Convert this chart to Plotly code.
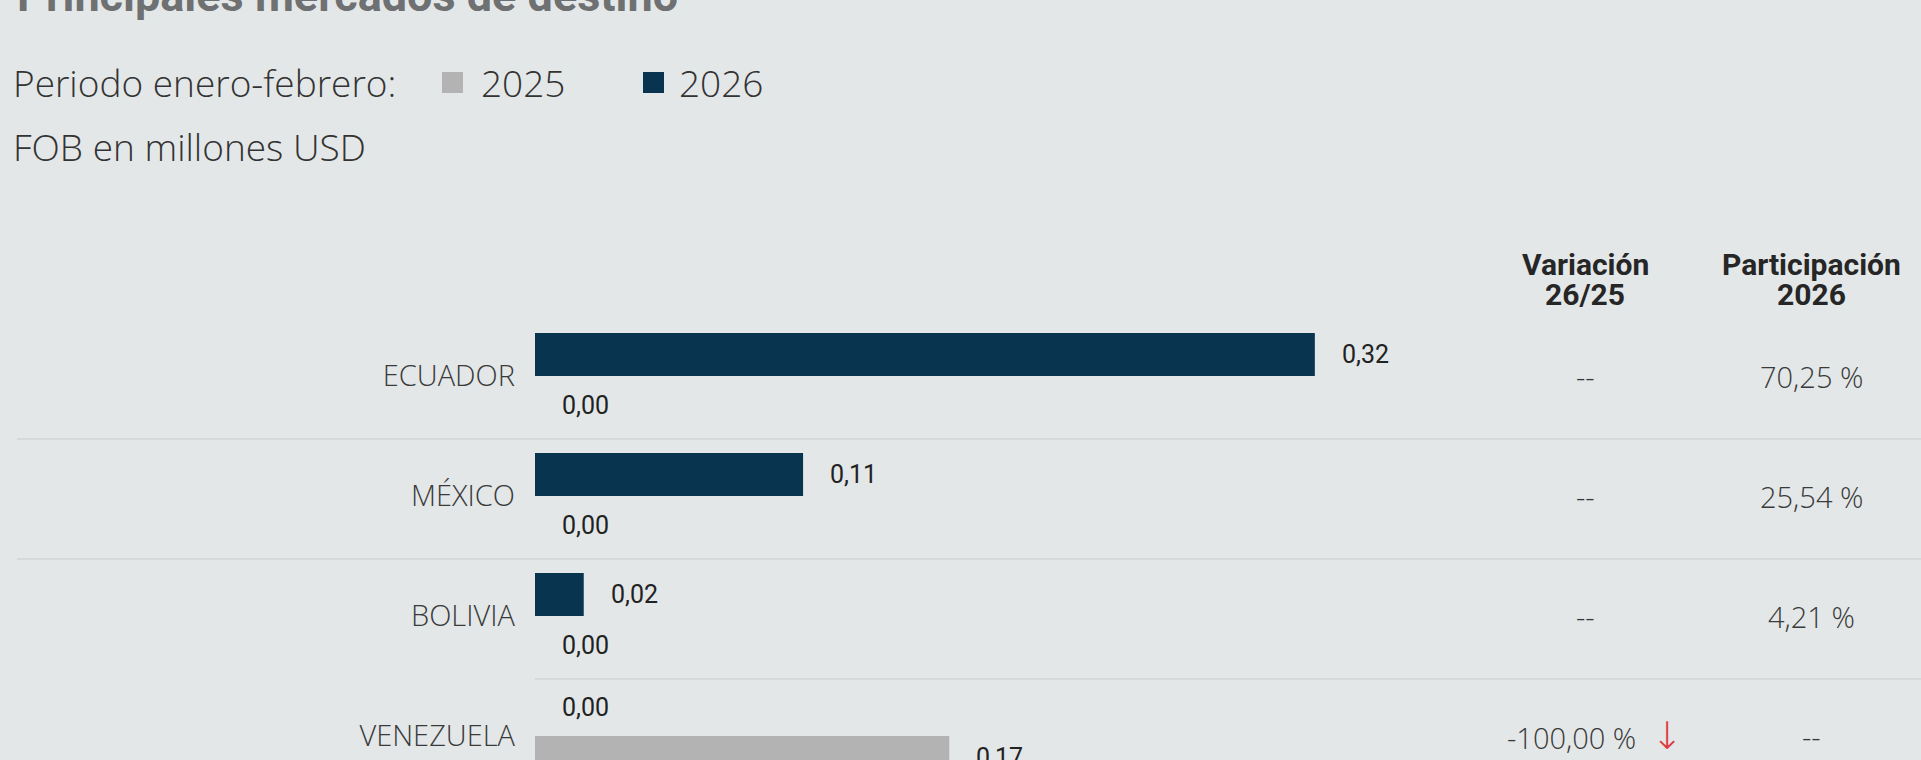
import plotly.graph_objects as go

# ---------------- data ----------------
countries = ["ECUADOR", "MÉXICO", "BOLIVIA", "VENEZUELA"]
fob_2025 = [0.00, 0.00, 0.00, 0.17]
fob_2026 = [0.32, 0.11, 0.02, 0.00]
variacion = ["--", "--", "--", "-100,00 %"]
variacion_dir = ["", "", "", "down"]
participacion = ["70,25 %", "25,54 %", "4,21 %", "--"]
series_names = ["2025", "2026"]

title_text = "Principales mercados de destino"
period_text = "Periodo enero-febrero:"
unit_text = "FOB en millones USD"
header_var = ["Variación", "26/25"]
header_part = ["Participación", "2026"]

# ---------------- style ----------------
W, H = 1921, 760
BG = "#e3e7e8"
C25 = "#b3b3b3"
C26 = "#08344f"
SEP = "#d5d9da"
LIGHT = dict(family="Open Sans", size=29, color="#3a3a3a", weight=300)
NUM = dict(family="Roboto", size=25, color="#222222")

PX_PER_UNIT = 2437.0
X0, X1 = 535, 1475
ROW_PX = 120.0
ROW0_Y = 376.0


def fmt(v):
    return f"{v:.2f}".replace(".", ",")


def px(x):
    return x / W


def py(y):
    return 1 - y / H


fig = go.Figure()
fig.add_trace(go.Bar(y=countries, x=fob_2026, name=series_names[1], orientation="h",
                     marker=dict(color=C26, line=dict(width=0)), hoverinfo="skip"))
fig.add_trace(go.Bar(y=countries, x=fob_2025, name=series_names[0], orientation="h",
                     marker=dict(color=C25, line=dict(width=0)), hoverinfo="skip"))

annotations = []
half = 21.5
for c, v26, v25 in zip(countries, fob_2026, fob_2025):
    annotations.append(dict(x=v26, y=c, xref="x", yref="y", text=fmt(v26), showarrow=False,
                            xanchor="left", yanchor="middle", xshift=25,
                            yshift=half + (7 if v26 == 0 else 0), font=NUM))
    annotations.append(dict(x=v25, y=c, xref="x", yref="y", text=fmt(v25), showarrow=False,
                            xanchor="left", yanchor="middle", xshift=25,
                            yshift=-half - (8 if v25 == 0 else 0), font=NUM))

# table columns
COL_VAR = px(1585)
COL_PART = px(1811)
for c, var, d, part in zip(countries, variacion, variacion_dir, participacion):
    t = var
    shift = 0
    if d == "down":
        t = (var + "  <span style='color:#e0393e;font-size:38px;font-family:DejaVu Sans;"
             "font-weight:300'>↓</span>")
        shift = 10
    annotations.append(dict(x=COL_VAR, y=c, xref="paper", yref="y", text=t, showarrow=False,
                            xanchor="center", yanchor="middle", xshift=shift, font=LIGHT))
    annotations.append(dict(x=COL_PART, y=c, xref="paper", yref="y", text=part, showarrow=False,
                            xanchor="center", yanchor="middle", font=LIGHT))

HDR = dict(family="Roboto", size=30, color="#262626", weight=700)
for xx, lines in [(COL_VAR, header_var), (COL_PART, header_part)]:
    for k, t in enumerate(lines):
        annotations.append(dict(x=xx, y=py(265 + 29 * k), xref="paper", yref="paper", text=t,
                                showarrow=False, xanchor="center", yanchor="middle", font=HDR))

# title and legend texts
annotations.append(dict(x=px(15), y=py(-4), xref="paper", yref="paper", text=f"<b>{title_text}</b>",
                        showarrow=False, xanchor="left", yanchor="middle",
                        font=dict(family="Roboto", size=45, color="#6e7072")))
LEG = dict(family="Open Sans", size=37, color="#333333", weight=300)
annotations.append(dict(x=px(11), y=py(83), xref="paper", yref="paper", text=period_text,
                        showarrow=False, xanchor="left", yanchor="middle", font=LEG))
annotations.append(dict(x=px(479), y=py(83), xref="paper", yref="paper", text=series_names[0],
                        showarrow=False, xanchor="left", yanchor="middle", font=LEG))
annotations.append(dict(x=px(677), y=py(83), xref="paper", yref="paper", text=series_names[1],
                        showarrow=False, xanchor="left", yanchor="middle", font=LEG))
annotations.append(dict(x=px(11), y=py(146), xref="paper", yref="paper", text=unit_text,
                        showarrow=False, xanchor="left", yanchor="middle", font=LEG))

shapes = [
    dict(type="rect", xref="paper", yref="paper", x0=px(442), x1=px(463), y0=py(72), y1=py(93),
         fillcolor=C25, line=dict(width=0)),
    dict(type="rect", xref="paper", yref="paper", x0=px(643), x1=px(664), y0=py(72), y1=py(93),
         fillcolor=C26, line=dict(width=0)),
]
# row separators
for i in range(len(countries) - 1):
    x_start = px(17) if i < len(countries) - 2 else px(X0)
    yy = i + 0.5 + 3 / ROW_PX
    shapes.append(dict(type="line", xref="paper", yref="y", x0=x_start, x1=1,
                       y0=yy, y1=yy, line=dict(color=SEP, width=2), layer="below"))

y_top = 0 - ROW0_Y / ROW_PX
y_bot = (H - ROW0_Y) / ROW_PX

fig.update_layout(
    width=W, height=H,
    paper_bgcolor=BG, plot_bgcolor=BG,
    margin=dict(l=0, r=0, t=0, b=0),
    barmode="group", bargap=1 - 86 / ROW_PX, bargroupgap=0,
    showlegend=False,
    xaxis=dict(domain=[px(X0), px(X1)], range=[0, (X1 - X0) / PX_PER_UNIT],
               visible=False, showgrid=False, zeroline=False),
    yaxis=dict(type="category", categoryorder="array", categoryarray=countries,
               range=[y_bot, y_top], showgrid=False, zeroline=False, showline=False,
               ticks="", tickfont=LIGHT, ticklabelstandoff=19),
    annotations=annotations, shapes=shapes,
    hovermode=False,
)

fig.write_html("out.html", config={"displayModeBar": False},
               post_script="document.body.style.margin='0';document.body.style.overflow='hidden';")
